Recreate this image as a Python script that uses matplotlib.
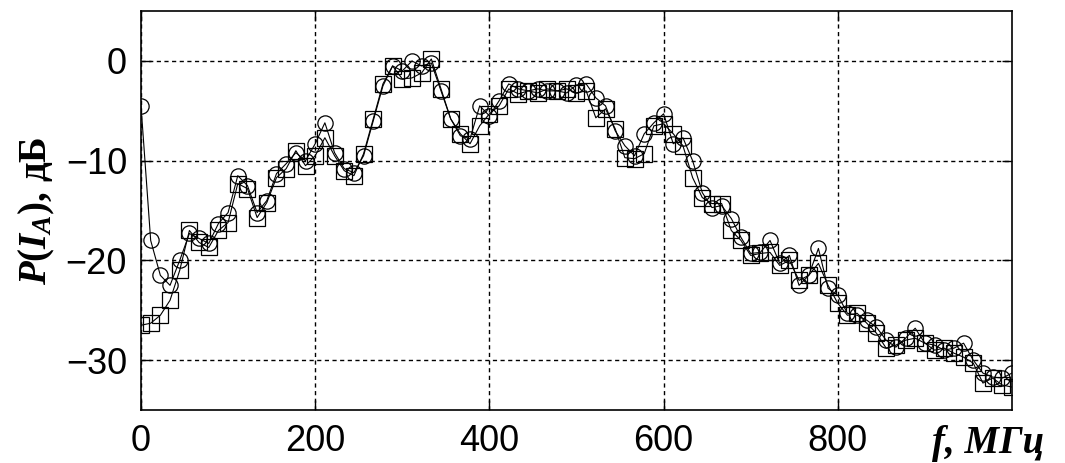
import matplotlib.pyplot as plt
import numpy as np

# frequency grid, MHz (91 samples from 0 to 1000)
freq = np.linspace(0, 1000, 91)

# circles
p_circle = [
    -4.5, -18.0, -21.5, -22.5, -20.0, -17.3, -17.8, -18.3, -16.3, -15.2,
    -11.5, -12.5, -15.2, -14.0, -11.3, -10.3, -9.2, -10.0, -8.3, -6.2,
    -9.2, -10.8, -11.2, -9.5, -6.0, -2.5, -0.5, -1.0, 0.0, -0.5,
    -0.2, -3.0, -5.8, -7.5, -7.8, -4.5, -5.5, -4.0, -2.3, -2.8,
    -3.0, -2.8, -3.0, -3.0, -3.2, -2.4, -2.3, -3.7, -4.5, -7.0,
    -8.5, -9.5, -7.3, -6.2, -5.3, -8.3, -7.7, -10.0, -13.2, -14.7,
    -14.5, -15.8, -17.7, -19.3, -19.2, -18.0, -20.3, -19.5, -22.5, -21.5,
    -18.8, -22.8, -23.5, -25.3, -25.5, -26.0, -26.7, -28.0, -28.7, -27.8,
    -26.8, -28.3, -28.5, -29.0, -28.8, -28.3, -30.0, -31.3, -31.7, -31.8,
    -31.3,
]

# squares
p_square = [
    -26.5, -26.3, -25.5, -24.0, -21.0, -17.0, -18.2, -18.7, -17.0, -16.2,
    -12.3, -12.8, -15.7, -14.2, -11.7, -10.8, -9.0, -10.5, -9.5, -7.7,
    -9.5, -11.0, -11.5, -9.3, -5.8, -2.3, -0.5, -1.8, -1.7, -1.2,
    0.2, -2.8, -5.8, -7.3, -8.3, -6.5, -5.3, -4.5, -2.8, -3.3,
    -3.0, -3.2, -2.8, -3.0, -2.8, -3.2, -3.0, -5.7, -4.8, -6.8,
    -9.7, -9.8, -9.3, -6.5, -6.3, -7.3, -8.5, -11.7, -13.7, -14.3,
    -14.3, -17.0, -18.0, -19.5, -19.3, -19.2, -20.5, -20.0, -22.0, -21.5,
    -20.3, -22.5, -24.3, -25.5, -25.3, -26.3, -27.3, -28.8, -28.5, -28.0,
    -27.8, -28.3, -29.0, -28.8, -29.3, -29.7, -30.3, -32.3, -31.8, -32.5,
    -32.7,
]

xticks = [0, 200, 400, 600, 800]
yticks = [-30, -20, -10, 0]

plt.rcParams['mathtext.fontset'] = 'custom'
plt.rcParams['mathtext.rm'] = 'Liberation Serif:bold'
plt.rcParams['mathtext.it'] = 'Liberation Serif:bold:italic'
plt.rcParams['lines.scale_dashes'] = False

fig = plt.figure(figsize=(10.65, 4.63), dpi=100)
ax = fig.add_axes([0.1324, 0.1145, 0.8178, 0.8615])

ax.plot(freq, p_circle, color='black', lw=0.8, marker='o', ms=11,
        mfc='none', mec='black', mew=0.9)
ax.plot(freq, p_square, color='black', lw=0.8, marker='s', ms=12,
        mfc='none', mec='black', mew=0.9)

ax.set_xlim(0, 1000)
ax.set_ylim(-35, 5)
ax.set_xticks(xticks)
ax.set_yticks(yticks)
ax.grid(True, color='black', linestyle=(0, (3, 2.5)), linewidth=1.0)
ax.tick_params(direction='in', length=7, width=1, top=True, right=True,
               labelsize=26, pad=10)
for lab in ax.get_xticklabels() + ax.get_yticklabels():
    lab.set_family('Liberation Sans')
for sp in ax.spines.values():
    sp.set_linewidth(1.2)

ax.set_ylabel(r"$P(I_A)$, дБ", family='Liberation Serif', fontweight='bold',
              fontsize=28, labelpad=6)
fig.text(0.875, 0.022, "f, МГц", family='Liberation Serif', fontweight='bold',
         style='italic', fontsize=28, ha='left', va='baseline')

fig.savefig('out.png', dpi=100)
